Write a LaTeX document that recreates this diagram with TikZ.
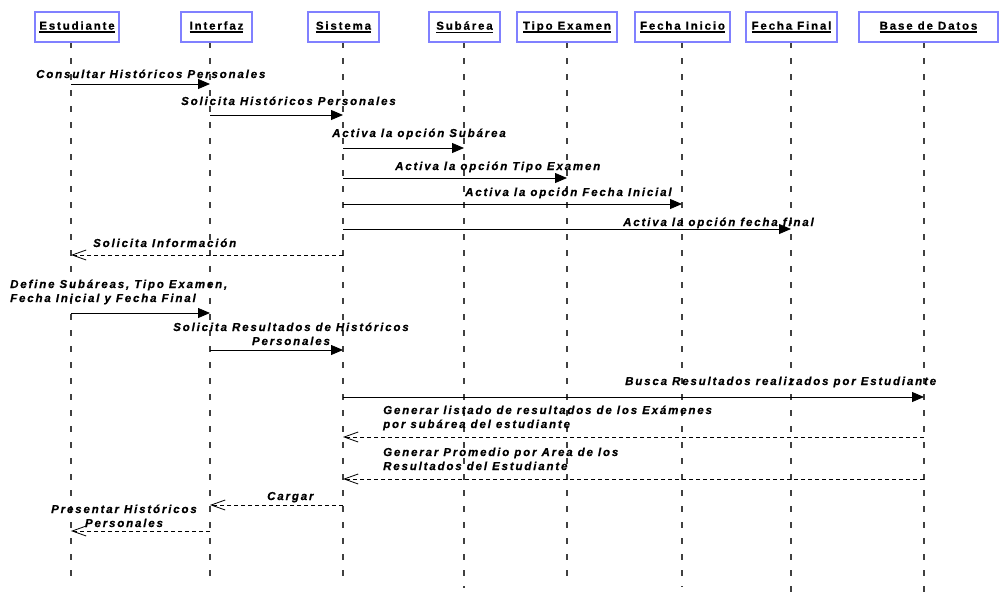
\documentclass[tikz,border=0pt]{standalone}
\usepackage{fontspec}
\setmainfont{Liberation Sans}[LetterSpace=16,
  BoldFeatures={FakeBold=0.6},BoldItalicFeatures={FakeBold=0.6}]
\usetikzlibrary{arrows.meta}
\definecolor{boxblue}{HTML}{8080FF}
\definecolor{lifegray}{HTML}{404040}
\newcommand\ulbox[1]{\setbox0\hbox{#1}\rlap{\vrule height -1.8pt depth 3pt width \wd0}\box0}
\begin{document}
\begin{tikzpicture}[x=1pt,y=-1pt,
  hdr/.style={draw=boxblue,line width=2pt,fill=white,minimum height=30pt,inner sep=0pt,
    font=\fontsize{11.5}{13}\selectfont\bfseries},
  life/.style={draw=lifegray,line width=1.1pt,dash pattern=on 6pt off 10pt},
  msg/.style={draw=black,line width=0.8pt,-{Triangle[length=12pt,width=10pt]}},
  ret/.style={draw=black,line width=0.8pt,dash pattern=on 4pt off 3pt,
    -{Straight Barb[length=14pt,width=10pt,line width=0.8pt]}},
  lbl/.style={inner sep=0pt,font=\fontsize{11.5}{14}\selectfont\bfseries\itshape,anchor=base west,align=left}]
\useasboundingbox (0,0) rectangle (999,592);
% lifeline ends
\coordinate (Lest) at (71,42);  \coordinate (Best) at (71,577);
\coordinate (Lint) at (210,42); \coordinate (Bint) at (210,584);
\coordinate (Lsis) at (343,42); \coordinate (Bsis) at (343,584);
\coordinate (Lsub) at (464,42); \coordinate (Bsub) at (464,588);
\coordinate (Ltip) at (567,42); \coordinate (Btip) at (567,584);
\coordinate (Lfin) at (682,42); \coordinate (Bfin) at (682,587);
\coordinate (Lffi) at (791,42); \coordinate (Bffi) at (791,592);
\coordinate (Lbd)  at (924,42); \coordinate (Bbd)  at (924,592);
\draw[life] (Lest) -- (Best);
\draw[life] (Lint) -- (Bint);
\draw[life] (Lsis) -- (Bsis);
\draw[life] (Lsub) -- (Bsub);
\draw[life] (Ltip) -- (Btip);
\draw[life] (Lfin) -- (Bfin);
\draw[life] (Lffi) -- (Bffi);
\draw[life] (Lbd) -- (Bbd);
% headers
\node[hdr,minimum width=84pt]  (est) at (77,27)    {\ulbox{Estudiante}};
\node[hdr,minimum width=71pt]  (int) at (216.5,27) {\ulbox{Interfaz}};
\node[hdr,minimum width=71pt]  (sis) at (343.5,27) {\ulbox{Sistema}};
\node[hdr,minimum width=71pt]  (sub) at (464.5,27) {\ulbox{Subárea}};
\node[hdr,minimum width=100pt] (tip) at (567,27)   {\ulbox{Tipo Examen}};
\node[hdr,minimum width=95pt]  (fin) at (682.5,27) {\ulbox{Fecha Inicio}};
\node[hdr,minimum width=91pt]  (ffi) at (791.5,27) {\ulbox{Fecha Final}};
\node[hdr,minimum width=139pt] (bd)  at (928.5,27) {\ulbox{Base de Datos}};
% messages
\draw[msg] (Lest |- 0,84)  -- (Lint |- 0,84);
\draw[msg] (Lint |- 0,115) -- (Lsis |- 0,115);
\draw[msg] (Lsis |- 0,148) -- (Lsub |- 0,148);
\draw[msg] (Lsis |- 0,178) -- (Ltip |- 0,178);
\draw[msg] (Lsis |- 0,204) -- (Lfin |- 0,204);
\draw[msg] (Lsis |- 0,229) -- (Lffi |- 0,229);
\draw[ret] (Lsis |- 0,255) -- (Lest |- 0,255);
\draw[msg] (Lest |- 0,313) -- (Lint |- 0,313);
\draw[msg] (Lint |- 0,350) -- (Lsis |- 0,350);
\draw[msg] (Lsis |- 0,397) -- (Lbd |- 0,397);
\draw[ret] (Lbd |- 0,437)  -- (Lsis |- 0,437);
\draw[ret] (Lbd |- 0,479)  -- (Lsis |- 0,479);
\draw[ret] (Lsis |- 0,505) -- (Lint |- 0,505);
\draw[ret] (Lint |- 0,531) -- (Lest |- 0,531);
% labels (multi-line: anchor on the last line's baseline)
\node[lbl] (m1)  at (36,78)   {Consultar Históricos Personales};
\node[lbl] (m2)  at (181,105) {Solicita Históricos Personales};
\node[lbl] (m3)  at (332,137) {Activa la opción Subárea};
\node[lbl] (m4)  at (395,170) {Activa la opción Tipo Examen};
\node[lbl] (m5)  at (465,196) {Activa la opción Fecha Inicial};
\node[lbl] (m6)  at (623,226) {Activa la opción fecha final};
\node[lbl] (m7)  at (93,247)  {Solicita Información};
\node[lbl] (m8)  at (10,302)  {Define Subáreas, Tipo Examen,\\Fecha Inicial y Fecha Final};
\node[lbl,align=center,anchor=base] (m9) at (291,345) {Solicita Resultados de Históricos\\Personales};
\node[lbl] (m10) at (625,385) {Busca Resultados realizados por Estudiante};
\node[lbl] (m11) at (383,428) {Generar listado de resultados de los Exámenes\\por subárea del estudiante};
\node[lbl] (m12) at (383,470) {Generar Promedio por Area de los\\Resultados del Estudiante};
\node[lbl] (m13) at (267,500) {Cargar};
\node[lbl,align=center,anchor=base] (m14) at (124,527) {Presentar Históricos\\Personales};
\end{tikzpicture}
\end{document}
